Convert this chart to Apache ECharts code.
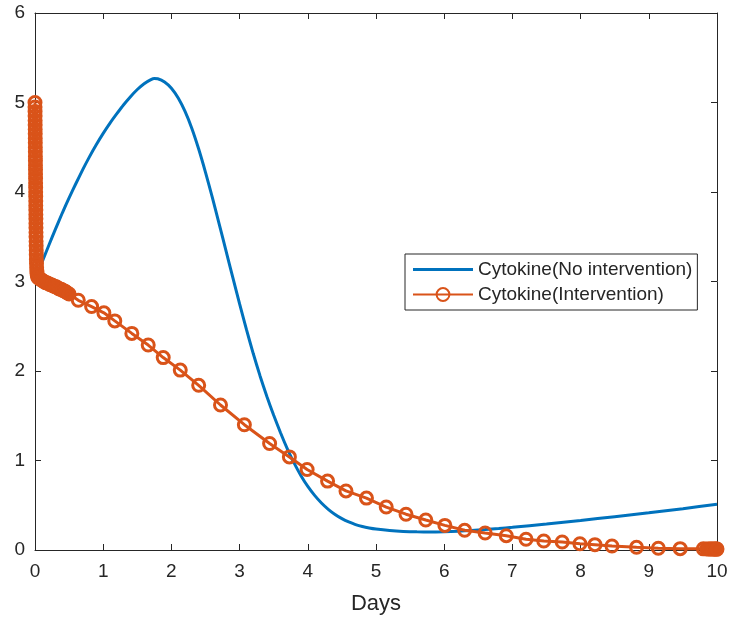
<!DOCTYPE html>
<html>
<head>
<meta charset="utf-8">
<script src="https://cdn.jsdelivr.net/npm/echarts@6/dist/echarts.min.js"></script>
<style>
html,body{margin:0;padding:0;background:#fff;}
#chart{width:732px;height:621px;}
</style>
</head>
<body>
<div id="chart"></div>
<script>
const xTicks = [0,1,2,3,4,5,6,7,8,9,10];
const yTicks = [0,1,2,3,4,5,6];
const seriesNames = ['Cytokine(No intervention)', 'Cytokine(Intervention)'];

const noInterventionDays = [0,0.1,0.2,0.3,0.4,0.5,0.6,0.7,0.8,0.9,1.0,1.1,1.2,1.3,1.4,1.5,1.6,1.7,1.75,1.8,1.9,2.0,2.1,2.2,2.3,2.4,2.5,2.6,2.7,2.8,2.9,3.0,3.1,3.2,3.3,3.4,3.5,3.6,3.7,3.8,3.9,4.0,4.1,4.2,4.3,4.4,4.5,4.6,4.7,4.8,4.9,5.0,5.2,5.4,5.6,5.8,6.0,6.2,6.4,6.6,6.8,7.0,7.5,8.0,8.5,9.0,9.5,10.0];
const noInterventionValues = [3.02,3.21,3.40,3.585,3.765,3.935,4.095,4.25,4.395,4.53,4.655,4.77,4.875,4.975,5.065,5.145,5.21,5.255,5.267,5.265,5.23,5.16,5.05,4.90,4.71,4.48,4.22,3.94,3.645,3.345,3.045,2.75,2.465,2.195,1.945,1.715,1.505,1.31,1.13,0.97,0.83,0.71,0.61,0.525,0.455,0.397,0.35,0.313,0.284,0.262,0.246,0.234,0.218,0.208,0.203,0.202,0.205,0.21,0.218,0.228,0.24,0.253,0.29,0.33,0.372,0.415,0.462,0.51];

const interventionDays = [0,0.0005,0.001,0.0015,0.002,0.0025,0.003,0.0035,0.004,0.0045,0.005,0.0055,0.006,0.0065,0.007,0.0075,0.008,0.0085,0.009,0.0095,0.01,0.0105,0.011,0.0115,0.012,0.0125,0.013,0.0135,0.014,0.0145,0.015,0.016,0.017,0.018,0.019,0.02,0.022,0.024,0.027,0.03,0.034,0.04,
  0.05,0.07,0.09,0.11,0.13,0.15,0.17,0.19,0.21,0.23,0.25,0.27,0.29,0.31,0.33,0.35,0.37,0.39,0.41,0.43,0.45,0.47,0.5,
  0.635,0.83,1.01,1.17,1.42,1.66,1.88,2.13,2.4,2.72,3.07,3.44,3.73,3.99,4.29,4.56,4.86,5.15,5.44,5.73,6.01,6.30,6.60,6.91,7.20,7.46,7.73,7.99,8.21,8.46,8.82,9.14,9.46,9.8,9.85,9.88,9.9,9.92,9.94,9.96,9.98,9.99,10.0];
const interventionValues = [5.0,4.95,4.9,4.85,4.8,4.75,4.7,4.65,4.6,4.55,4.5,4.45,4.4,4.35,4.3,4.25,4.2,4.15,4.1,4.05,4.0,3.95,3.9,3.85,3.8,3.75,3.7,3.65,3.6,3.55,3.5,3.45,3.4,3.35,3.3,3.25,3.2,3.16,3.12,3.09,3.07,3.05,
  3.04,3.03,3.02,3.01,3.0,2.99,2.985,2.98,2.97,2.965,2.96,2.95,2.945,2.94,2.93,2.92,2.915,2.91,2.9,2.895,2.885,2.875,2.86,
  2.79,2.72,2.65,2.56,2.42,2.29,2.15,2.01,1.84,1.62,1.40,1.19,1.04,0.90,0.77,0.66,0.58,0.48,0.40,0.335,0.275,0.22,0.19,0.16,0.12,0.10,0.09,0.07,0.06,0.045,0.03,0.02,0.015,0.013,0.012,0.012,0.012,0.011,0.011,0.011,0.01,0.01,0.01];

const blue = '#0072BD';
const orange = '#D95319';
const axisColor = '#262626';
const FONT = '"Liberation Sans", Arial, sans-serif';

const pairs = (xs, ys) => xs.map((x, i) => [x, ys[i]]);

const chart = echarts.init(document.getElementById('chart'), null, {renderer: 'canvas'});

const axisCommon = {
  type: 'value',
  axisLine: {show: true, onZero: false, lineStyle: {color: axisColor, width: 1}},
  axisTick: {show: true, inside: true, length: 6, lineStyle: {color: axisColor}},
  splitLine: {show: false}
};

chart.setOption({
  animation: false,
  backgroundColor: '#fff',
  grid: {left: 35, right: 15, top: 13, bottom: 71, containLabel: false},
  xAxis: [
    Object.assign({}, axisCommon, {
      position: 'bottom', min: xTicks[0], max: xTicks[xTicks.length-1], interval: 1,
      axisLabel: {color: axisColor, fontSize: 19, fontFamily: FONT, margin: 12},
      name: 'Days', nameLocation: 'middle', nameGap: 43,
      nameTextStyle: {color: axisColor, fontSize: 22, fontFamily: FONT}
    }),
    Object.assign({}, axisCommon, {
      position: 'top', min: xTicks[0], max: xTicks[xTicks.length-1], interval: 1,
      axisLabel: {show: false}
    })
  ],
  yAxis: [
    Object.assign({}, axisCommon, {
      position: 'left', min: yTicks[0], max: yTicks[yTicks.length-1], interval: 1,
      axisLabel: {color: axisColor, fontSize: 19, fontFamily: FONT, margin: 10}
    }),
    Object.assign({}, axisCommon, {
      position: 'right', min: yTicks[0], max: yTicks[yTicks.length-1], interval: 1,
      axisLabel: {show: false}
    })
  ],
  legend: {
    orient: 'vertical',
    left: 405, top: 254,
    backgroundColor: '#fff',
    borderColor: axisColor, borderWidth: 1,
    padding: [6, 5, 6, 7],
    itemWidth: 60, itemHeight: 16, itemGap: 6,
    symbolKeepAspect: true,
    textStyle: {color: axisColor, fontSize: 19, fontFamily: FONT},
    data: [
      {name: seriesNames[0], icon: 'path://M0,0H60V3H0Z'},
      {name: seriesNames[1]}
    ]
  },
  series: [
    {
      name: seriesNames[0],
      type: 'line',
      data: pairs(noInterventionDays, noInterventionValues),
      smooth: 0.2,
      showSymbol: false,
      symbol: 'none',
      color: blue,
      lineStyle: {color: blue, width: 3},
      z: 2
    },
    {
      name: seriesNames[1],
      type: 'line',
      data: pairs(interventionDays, interventionValues),
      symbol: 'circle',
      symbolSize: 12,
      showSymbol: true,
      color: orange,
      itemStyle: {color: 'rgba(255,255,255,0)', borderColor: orange, borderWidth: 3},
      lineStyle: {color: orange, width: 3},
      z: 3
    }
  ]
});
</script>
</body>
</html>
